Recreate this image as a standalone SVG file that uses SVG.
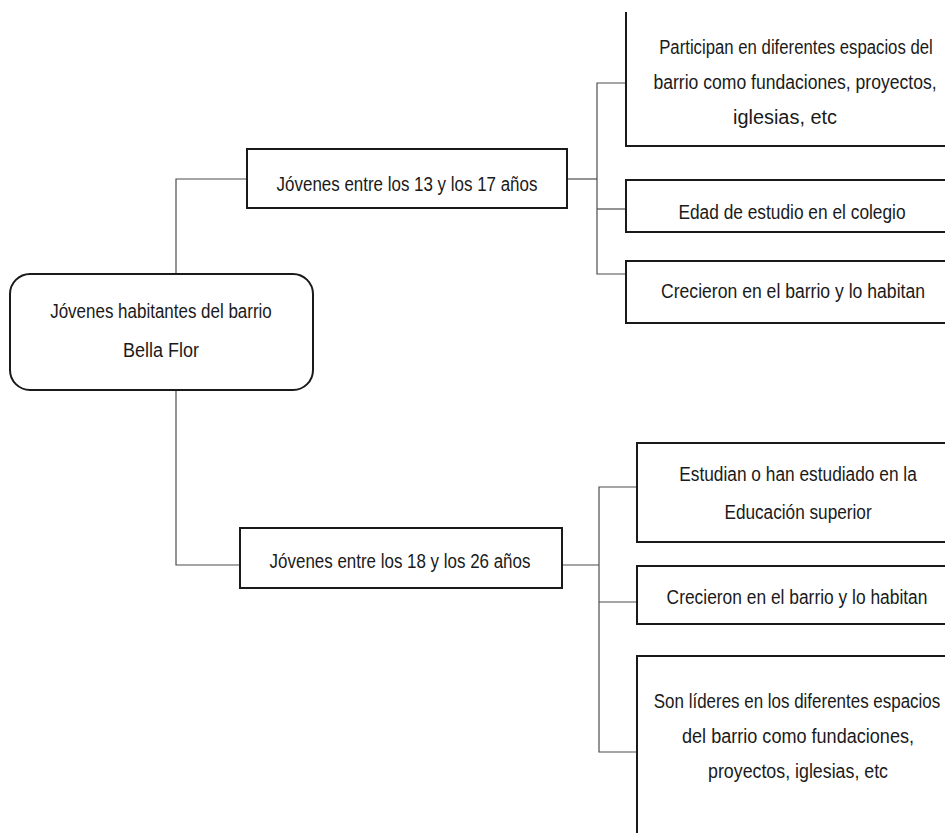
<svg xmlns="http://www.w3.org/2000/svg" width="945" height="833" viewBox="0 0 945 833">
  <style>
    .box { fill: #ffffff; stroke: #1a1a1a; stroke-width: 2; }
    .edge { fill: none; stroke: #4d4d4d; stroke-width: 1.2; }
    .label { font-family: "Liberation Sans", "DejaVu Sans", sans-serif; font-size: 21px; fill: #1a1a1a; text-anchor: middle; }
  </style>
  <rect width="945" height="833" fill="#ffffff"/>

  <!-- connectors -->
  <g id="connectors">
    <polyline class="edge" points="247,179 176,179 176,275"/>
    <polyline class="edge" points="176,389 176,565 240,565"/>
    <polyline class="edge" points="567,179 597,179"/>
    <polyline class="edge" points="626,83 597,83 597,274 626,274"/>
    <line class="edge" x1="597" y1="209" x2="626" y2="209"/>
    <polyline class="edge" points="562,565 599,565"/>
    <polyline class="edge" points="637,487 599,487 599,752 637,752"/>
    <line class="edge" x1="599" y1="602" x2="637" y2="602"/>
  </g>

  <!-- labels use a narrowed sans: each line is placed at (centre, baseline) and squeezed to 80% width -->

  <!-- root -->
  <g id="root">
    <rect class="box" x="10" y="274" width="303" height="116" rx="20" ry="20"/>
    <text class="label" transform="translate(161,318) scale(0.8,1)" textLength="277" lengthAdjust="spacingAndGlyphs">Jóvenes habitantes del barrio</text>
    <text class="label" transform="translate(161,357) scale(0.8,1)" textLength="95" lengthAdjust="spacingAndGlyphs">Bella Flor</text>
  </g>

  <!-- age group 13-17 -->
  <g id="group-13-17">
    <rect class="box" x="247" y="149" width="320" height="59"/>
    <text class="label" transform="translate(407,191) scale(0.8,1)" textLength="326" lengthAdjust="spacingAndGlyphs">Jóvenes entre los 13 y los 17 años</text>
  </g>

  <g id="participan">
    <path class="box" d="M626,12 V146 H960"/>
    <text class="label" transform="translate(796,54) scale(0.8,1)" textLength="342" lengthAdjust="spacingAndGlyphs">Participan en diferentes espacios del</text>
    <text class="label" transform="translate(795,89) scale(0.8,1)" textLength="354" lengthAdjust="spacingAndGlyphs">barrio como fundaciones, proyectos,</text>
    <text class="label" transform="translate(785,124) scale(0.8,1)" textLength="130" lengthAdjust="spacingAndGlyphs">iglesias, etc</text>
  </g>

  <g id="edad">
    <rect class="box" x="626" y="180" width="340" height="52"/>
    <text class="label" transform="translate(792,219) scale(0.8,1)" textLength="284" lengthAdjust="spacingAndGlyphs">Edad de estudio en el colegio</text>
  </g>

  <g id="crecieron-1">
    <rect class="box" x="626" y="261" width="340" height="62"/>
    <text class="label" transform="translate(793,298) scale(0.8,1)" textLength="330" lengthAdjust="spacingAndGlyphs">Crecieron en el barrio y lo habitan</text>
  </g>

  <!-- age group 18-26 -->
  <g id="group-18-26">
    <rect class="box" x="240" y="528" width="322" height="60"/>
    <text class="label" transform="translate(400,568) scale(0.8,1)" textLength="326" lengthAdjust="spacingAndGlyphs">Jóvenes entre los 18 y los 26 años</text>
  </g>

  <g id="estudian">
    <rect class="box" x="637" y="443" width="330" height="99"/>
    <text class="label" transform="translate(798,481) scale(0.8,1)" textLength="297" lengthAdjust="spacingAndGlyphs">Estudian o han estudiado en la</text>
    <text class="label" transform="translate(798,519) scale(0.8,1)" textLength="184" lengthAdjust="spacingAndGlyphs">Educación superior</text>
  </g>

  <g id="crecieron-2">
    <rect class="box" x="637" y="566" width="330" height="58"/>
    <text class="label" transform="translate(797,604) scale(0.8,1)" textLength="326" lengthAdjust="spacingAndGlyphs">Crecieron en el barrio y lo habitan</text>
  </g>

  <g id="lideres">
    <rect class="box" x="637" y="656" width="330" height="200"/>
    <text class="label" transform="translate(797,708) scale(0.8,1)" textLength="358" lengthAdjust="spacingAndGlyphs">Son líderes en los diferentes espacios</text>
    <text class="label" transform="translate(798,743) scale(0.8,1)" textLength="290" lengthAdjust="spacingAndGlyphs">del barrio como fundaciones,</text>
    <text class="label" transform="translate(798,778) scale(0.8,1)" textLength="225" lengthAdjust="spacingAndGlyphs">proyectos, iglesias, etc</text>
  </g>
</svg>
